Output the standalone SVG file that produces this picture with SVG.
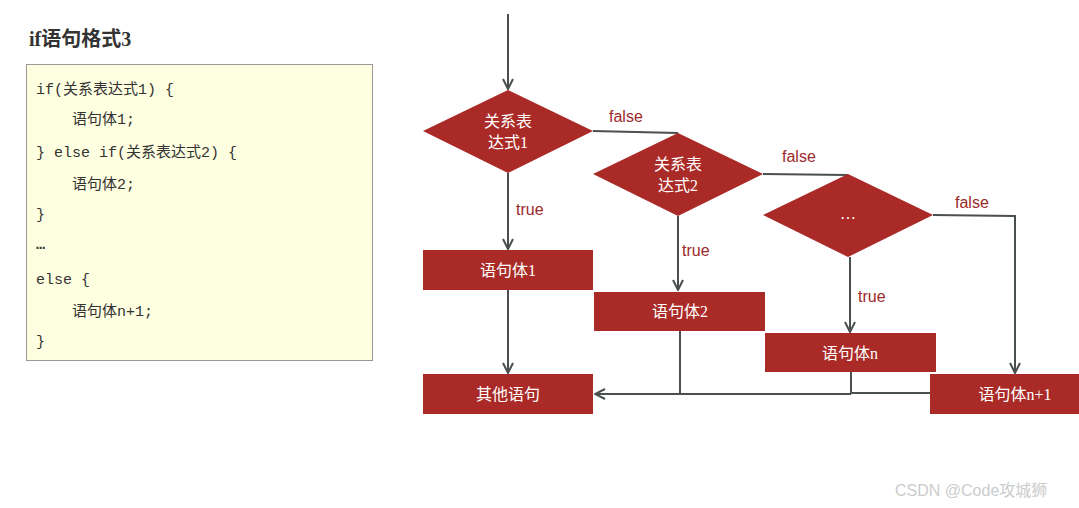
<svg xmlns="http://www.w3.org/2000/svg" width="1079" height="508" viewBox="0 0 1079 508">
<style>
.code{font-family:"Liberation Mono","Noto Sans CJK SC",monospace;font-size:15px;fill:#333}
.shape{fill:#aa2a27}
.nt{font-family:"Liberation Serif","Noto Sans CJK SC",serif;font-size:16px;fill:#fff;text-anchor:middle}
.lbl{font-family:"Liberation Sans",sans-serif;font-size:16px;fill:#9b2a2a}
.ln{stroke:#4a4f4f;stroke-width:2;fill:none}
</style>
<defs><marker id="a" viewBox="0 0 12 12" refX="11" refY="6" markerWidth="12" markerHeight="12" markerUnits="userSpaceOnUse" orient="auto"><path d="M1,1 L11,6 L1,11" fill="none" stroke="#4a4f4f" stroke-width="2"/></marker></defs>
<rect width="1079" height="508" fill="#fff"/>
<text x="29" y="46" font-family="Liberation Serif,Noto Sans CJK SC,serif" font-size="20" font-weight="bold" fill="#333">if语句格式3</text>
<g id="code">
<rect x="26.5" y="64.5" width="346" height="296" fill="#fefee0" stroke="#999"/>
<text class="code" x="36" y="94">if(关系表达式1) {</text>
<text class="code" x="72" y="124">语句体1;</text>
<text class="code" x="36" y="157">} else if(关系表达式2) {</text>
<text class="code" x="72" y="189">语句体2;</text>
<text class="code" x="36" y="219">}</text>
<text class="code" x="36" y="249" font-weight="bold">…</text>
<text class="code" x="36" y="284">else {</text>
<text class="code" x="72" y="316">语句体n+1;</text>
<text class="code" x="36" y="346">}</text>
</g>
<g id="connectors">
<path class="ln" d="M508,14 V89" marker-end="url(#a)"/>
<path class="ln" d="M508,173 V249" marker-end="url(#a)"/>
<path class="ln" d="M508,290 V373" marker-end="url(#a)"/>
<path class="ln" d="M593,131 L678,133"/>
<path class="ln" d="M678,216 V290" marker-end="url(#a)"/>
<path class="ln" d="M763,174 L848,175"/>
<path class="ln" d="M850,257 V332" marker-end="url(#a)"/>
<path class="ln" d="M933,215 L1015,216 V373" marker-end="url(#a)"/>
<path class="ln" d="M680,331 V394"/>
<path class="ln" d="M851,372 V393 H930"/>
<path class="ln" d="M851,394 H595" marker-end="url(#a)"/>
</g>
<g id="labels">
<text class="lbl" x="609" y="122">false</text>
<text class="lbl" x="782" y="162">false</text>
<text class="lbl" x="955" y="208">false</text>
<text class="lbl" x="516" y="215">true</text>
<text class="lbl" x="682" y="256">true</text>
<text class="lbl" x="858" y="302">true</text>
</g>
<g id="d1"><polygon class="shape" points="423,131 508,90 593,131 508,173"/><text class="nt" x="508" y="127">关系表</text><text class="nt" x="508" y="148">达式1</text></g>
<g id="d2"><polygon class="shape" points="593,174 678,133 763,174 678,216"/><text class="nt" x="678" y="170">关系表</text><text class="nt" x="678" y="191">达式2</text></g>
<g id="d3"><polygon class="shape" points="763,215 848,174 933,215 848,257"/><text class="nt" x="848" y="219">…</text></g>
<g id="b1"><rect class="shape" x="423" y="250" width="170" height="40"/><text class="nt" x="508" y="276">语句体1</text></g>
<g id="b2"><rect class="shape" x="594" y="292" width="171" height="39"/><text class="nt" x="680" y="317">语句体2</text></g>
<g id="bn"><rect class="shape" x="765" y="333" width="171" height="39"/><text class="nt" x="850" y="359">语句体n</text></g>
<g id="bn1"><rect class="shape" x="930" y="374" width="149" height="40"/><text class="nt" x="1015" y="400">语句体n+1</text></g>
<g id="other"><rect class="shape" x="423" y="374" width="170" height="40"/><text class="nt" x="508" y="400">其他语句</text></g>
<text x="895" y="496" font-family="Liberation Sans,Noto Sans CJK SC,sans-serif" font-size="16" fill="#ccc">CSDN @Code攻城狮</text>
</svg>
